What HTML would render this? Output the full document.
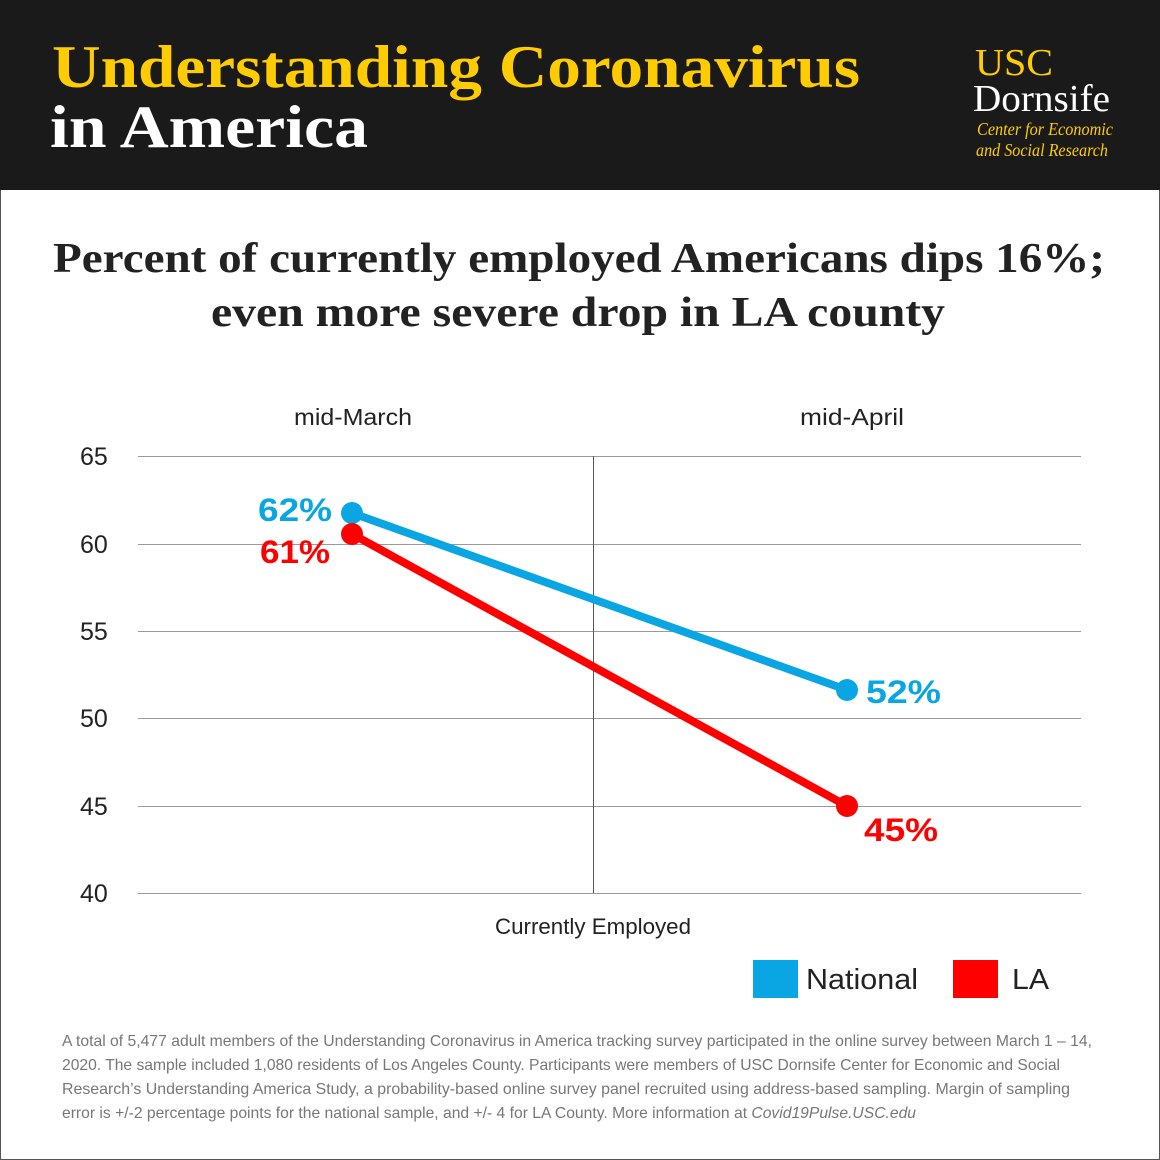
<!DOCTYPE html>
<html><head><meta charset="utf-8"><style>
html,body{margin:0;padding:0;background:#fff}
svg{display:block}
</style></head><body>
<svg width="1160" height="1160" viewBox="0 0 1160 1160" xmlns="http://www.w3.org/2000/svg">
<rect x="0" y="0" width="1160" height="1160" fill="#fff"/>
<rect x="0.5" y="0.5" width="1159" height="1159" fill="none" stroke="#555" stroke-width="1"/>
<rect x="0" y="0" width="1160" height="190" fill="#1a1a1a"/>
<g font-family="Liberation Serif, serif" font-weight="bold">
<text x="52" y="87" font-size="60" fill="#fecc00" textLength="808" lengthAdjust="spacingAndGlyphs">Understanding Coronavirus</text>
<text x="50" y="147" font-size="60" fill="#fff" textLength="318" lengthAdjust="spacingAndGlyphs">in America</text>
</g>
<g font-family="Liberation Serif, serif">
<text x="975" y="75" font-size="38" fill="#fecc00" textLength="78" lengthAdjust="spacingAndGlyphs">USC</text>
<text x="973" y="111" font-size="38" fill="#fff" textLength="137" lengthAdjust="spacingAndGlyphs">Dornsife</text>
<text x="977" y="135" font-size="18" font-style="italic" fill="#fecc00" textLength="136" lengthAdjust="spacingAndGlyphs">Center for Economic</text>
<text x="976" y="156" font-size="18" font-style="italic" fill="#fecc00" textLength="132" lengthAdjust="spacingAndGlyphs">and Social Research</text>
</g>
<g font-family="Liberation Serif, serif" font-weight="bold" fill="#222" font-size="42" text-anchor="middle">
<text x="579" y="272" textLength="1052" lengthAdjust="spacingAndGlyphs">Percent of currently employed Americans dips 16%;</text>
<text x="578" y="326" textLength="734" lengthAdjust="spacingAndGlyphs">even more severe drop in LA county</text>
</g>
<g stroke="#999" stroke-width="1">
<line x1="138" y1="456.5" x2="1081" y2="456.5"/>
<line x1="138" y1="544.5" x2="1081" y2="544.5"/>
<line x1="138" y1="631.5" x2="1081" y2="631.5"/>
<line x1="138" y1="718.5" x2="1081" y2="718.5"/>
<line x1="138" y1="806.5" x2="1081" y2="806.5"/>
<line x1="138" y1="893.5" x2="1081" y2="893.5"/>
<line x1="593.5" y1="456" x2="593.5" y2="893" stroke="#555"/>
</g>
<g font-family="Liberation Sans Narrow, Liberation Sans, sans-serif" fill="#222" font-size="25">
<text x="80" y="465">65</text>
<text x="80" y="553">60</text>
<text x="80" y="640">55</text>
<text x="80" y="727">50</text>
<text x="80" y="815">45</text>
<text x="80" y="902">40</text>
<text x="353" y="425" font-size="23" text-anchor="middle" textLength="118" lengthAdjust="spacingAndGlyphs">mid-March</text>
<text x="852" y="425" font-size="23" text-anchor="middle" textLength="104" lengthAdjust="spacingAndGlyphs">mid-April</text>
<text x="593" y="934" font-size="22" text-anchor="middle" textLength="196" lengthAdjust="spacingAndGlyphs">Currently Employed</text>
</g>
<line x1="352" y1="513" x2="847" y2="690" stroke="#0aa5e3" stroke-width="8"/>
<line x1="352" y1="534" x2="847" y2="806" stroke="#f00" stroke-width="8"/>
<circle cx="352" cy="513" r="11" fill="#0aa5e3"/>
<circle cx="847" cy="690" r="11" fill="#0aa5e3"/>
<circle cx="352" cy="534" r="11" fill="#f00"/>
<circle cx="847" cy="806" r="11" fill="#f00"/>
<g font-family="Liberation Sans Narrow, Liberation Sans, sans-serif" font-weight="bold" font-size="32">
<text x="258" y="521" fill="#0aa5e3" textLength="74" lengthAdjust="spacingAndGlyphs">62%</text>
<text x="260" y="563" fill="#f00" textLength="70" lengthAdjust="spacingAndGlyphs">61%</text>
<text x="866" y="703" fill="#0aa5e3" textLength="75" lengthAdjust="spacingAndGlyphs">52%</text>
<text x="864" y="841" fill="#f00" textLength="74" lengthAdjust="spacingAndGlyphs">45%</text>
</g>
<rect x="753" y="960" width="45" height="38" fill="#0aa5e3"/>
<rect x="953" y="960" width="45" height="38" fill="#f00"/>
<g font-family="Liberation Sans Narrow, Liberation Sans, sans-serif" font-size="29" fill="#222">
<text x="806" y="989" textLength="112" lengthAdjust="spacingAndGlyphs">National</text>
<text x="1012" y="989" textLength="37" lengthAdjust="spacingAndGlyphs">LA</text>
</g>
<g font-family="Liberation Sans Narrow, Liberation Sans, sans-serif" font-size="16" fill="#777">
<text x="62" y="1046" textLength="1030" lengthAdjust="spacingAndGlyphs">A total of 5,477 adult members of the Understanding Coronavirus in America tracking survey participated in the online survey between March 1 – 14,</text>
<text x="62" y="1070" textLength="998" lengthAdjust="spacingAndGlyphs">2020. The sample included 1,080 residents of Los Angeles County.  Participants were members of USC Dornsife Center for Economic and Social</text>
<text x="62" y="1094" textLength="1008" lengthAdjust="spacingAndGlyphs">Research’s Understanding America Study, a probability-based online survey panel recruited using address-based sampling.  Margin of sampling</text>
<text x="62" y="1118" textLength="854" lengthAdjust="spacingAndGlyphs">error is +/-2 percentage points for the national sample, and +/- 4 for LA County. More information at <tspan font-style="italic">Covid19Pulse.USC.edu</tspan></text>
</g>
</svg>
</body></html>
